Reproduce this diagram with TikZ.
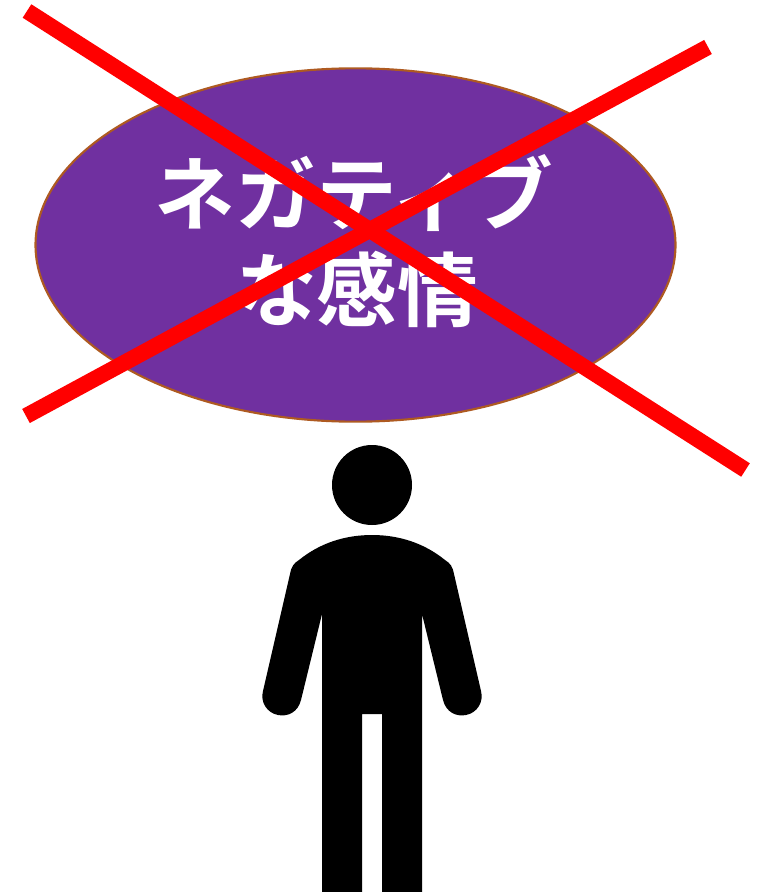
\documentclass[tikz,border=0pt]{standalone}
\usepackage{fontspec}
\newfontfamily\cjk{Noto Sans CJK JP}[BoldFont={* Bold}]
\usetikzlibrary{shapes.geometric}
\definecolor{bubblefill}{HTML}{7030A0}
\definecolor{bubbleedge}{HTML}{AE5A21}
\tikzset{
  px/.style={x=0.75pt,y=-0.75pt},
  bubble/.style={ellipse,draw=bubbleedge,fill=bubblefill,line width=1.6pt,minimum width=480pt,minimum height=265pt,inner sep=0pt},
  bubbletext/.style={text=white,font=\cjk\bfseries\fontsize{60.5pt}{72pt}\selectfont,align=center,inner sep=0pt},
  cross/.style={draw=red,line width=12pt},
  figure/.style={fill=black,draw=none}
}
\begin{document}
\begin{tikzpicture}[px]
\useasboundingbox (0,0) rectangle (761,892);
\node[bubble] (b) at (355.5,245) {};
\node[bubbletext] (t1) at (354,193) {ネガティブ};
\node[bubbletext] (t2) at (357,289) {な感情};
\coordinate (a1) at (27,11);
\coordinate (a2) at (745.5,470);
\coordinate (c1) at (26,416);
\coordinate (c2) at (708,47);
\draw[cross] (a1) -- (a2);
\draw[cross] (c1) -- (c2);
\node[figure,circle,minimum size=60pt,inner sep=0pt] (head) at (372,485) {};
\fill[figure] (322,892) -- (322,614) -- (301,700)
  .. controls (298,712) and (288,717) .. (278,715)
  .. controls (267,713) and (260,702) .. (263,691)
  -- (290,574) .. controls (291,567) and (294,563) .. (299,560)
  .. controls (320,543) and (345,535) .. (372,535)
  .. controls (399,535) and (424,543) .. (445,560)
  .. controls (450,563) and (453,567) .. (454,574)
  -- (481,691) .. controls (484,702) and (477,713) .. (466,715)
  .. controls (456,717) and (446,712) .. (443,700)
  -- (422,614) -- (422,892) -- (382,892) -- (382,714) -- (362,714) -- (362,892) -- cycle;
\end{tikzpicture}
\end{document}
